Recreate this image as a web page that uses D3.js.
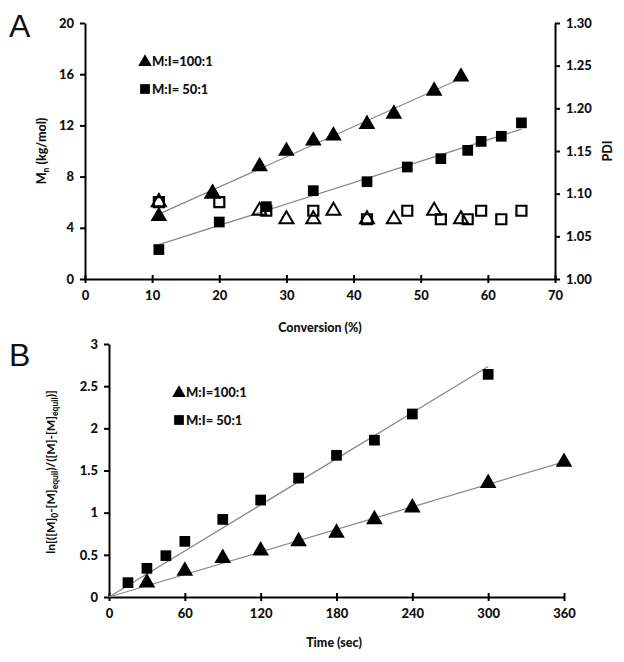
<!DOCTYPE html>
<html><head><meta charset="utf-8">
<script src="https://cdn.jsdelivr.net/npm/d3@7"></script>
<style>
body{margin:0;background:#fff;}
text{font-family:Lato,"Open Sans",sans-serif;font-weight:bold;fill:#111;}
</style></head><body>
<svg id="c" width="624" height="662"></svg>
<script>
// Panel A data
const convTri = [11, 19, 26, 30, 34, 37, 42, 46, 52, 56];
const mnTri   = [4.9, 6.7, 8.8, 10.0, 10.8, 11.2, 12.1, 12.9, 14.7, 15.8];
const pdiTri  = [1.09, 1.10, 1.08, 1.07, 1.07, 1.08, 1.07, 1.07, 1.08, 1.07];
const convSq  = [11, 20, 27, 34, 42, 48, 53, 57, 59, 62, 65];
const mnSq    = [2.3, 4.45, 5.65, 6.9, 7.6, 8.75, 9.4, 10.05, 10.75, 11.15, 12.2];
const pdiSq   = [1.09, 1.09, 1.08, 1.08, 1.07, 1.08, 1.07, 1.07, 1.08, 1.07, 1.08];
const ticksConv = [0, 10, 20, 30, 40, 50, 60, 70];
const ticksMn = [0, 4, 8, 12, 16, 20];
const ticksPdi = [1.00, 1.05, 1.10, 1.15, 1.20, 1.25, 1.30];
// Panel B data
const timeTri = [30, 60, 90, 120, 150, 180, 210, 240, 300, 360];
const lnTri   = [0.17, 0.31, 0.46, 0.55, 0.66, 0.76, 0.92, 1.06, 1.35, 1.60];
const timeSq  = [15, 30, 45, 60, 90, 120, 150, 180, 210, 240, 300];
const lnSq    = [0.17, 0.34, 0.49, 0.66, 0.92, 1.15, 1.41, 1.68, 1.86, 2.17, 2.64];
const ticksTime = [0, 60, 120, 180, 240, 300, 360];
const ticksLn = [0, 0.5, 1, 1.5, 2, 2.5, 3];
const legendLabels = ["M:I=100:1", "M:I= 50:1"];

const svg = d3.select("#c");
const triSym = d3.symbol().type(d3.symbolTriangle);
const sqSym = d3.symbol().type(d3.symbolSquare);

function linfit(xs, ys){
  const n = xs.length, mx = d3.mean(xs), my = d3.mean(ys);
  let sxy=0, sxx=0;
  for(let i=0;i<n;i++){sxy+=(xs[i]-mx)*(ys[i]-my);sxx+=(xs[i]-mx)**2;}
  const b = sxy/sxx; return {a: my-b*mx, b};
}
function origfit(xs, ys){
  let sxy=0,sxx=0; xs.forEach((x,i)=>{sxy+=x*ys[i];sxx+=x*x;}); return {a:0,b:sxy/sxx};
}
function styleAxis(g, fs){
  g.selectAll(".domain").attr("stroke","#000").attr("stroke-width",2);
  g.selectAll(".tick line").attr("stroke","#000").attr("stroke-width",2);
  g.selectAll(".tick text").style("font-size",fs+"px").style("font-family","Lato").style("font-weight","900").attr("fill","#222");
}
function trend(g, x, y, fit, x0, x1){
  g.append("line").attr("x1",x(x0)).attr("y1",y(fit.a+fit.b*x0))
    .attr("x2",x(x1)).attr("y2",y(fit.a+fit.b*x1))
    .attr("stroke","#8a8a8a").attr("stroke-width",1.3);
}
function legend(g, x, y1, y2){
  g.append("path").attr("d",triSym.size(80)()).attr("transform",`translate(${x},${y1+1})`).attr("fill","#000");
  g.append("text").attr("x",x+7).attr("y",y1+5).style("font-size","13px").style("font-weight","900").text(legendLabels[0]);
  g.append("path").attr("d",sqSym.size(95)()).attr("transform",`translate(${x},${y2})`).attr("fill","#000");
  g.append("text").attr("x",x+7).attr("y",y2+5).style("font-size","13px").style("font-weight","900").text(legendLabels[1]);
}

// ---------- Panel A ----------
{
  const x = d3.scaleLinear().domain([0,70]).range([85,555]);
  const yL = d3.scaleLinear().domain([0,20]).range([279,23]);
  const yR = d3.scaleLinear().domain([1.0,1.3]).range([279,23]);
  const g = svg.append("g");

  const gx = g.append("g").attr("transform","translate(0,279)")
    .call(d3.axisBottom(x).tickValues(ticksConv).tickSize(4).tickPadding(8).tickSizeOuter(0));
  gx.selectAll(".tick line").attr("y1",-4);
  styleAxis(gx, 13);
  const gyL = g.append("g").attr("transform","translate(85,0)")
    .call(d3.axisLeft(yL).tickValues(ticksMn).tickSize(5).tickPadding(6).tickSizeOuter(0));
  styleAxis(gyL, 13);
  const gyR = g.append("g").attr("transform","translate(555,0)")
    .call(d3.axisRight(yR).tickValues(ticksPdi).tickSize(5).tickPadding(6).tickSizeOuter(0).tickFormat(d3.format(".2f")));
  styleAxis(gyR, 13);

  trend(g, x, yL, linfit(convTri, mnTri), 11, 56);
  trend(g, x, yL, linfit(convSq, mnSq), 11, 65);

  convSq.forEach((c,i)=>g.append("path").attr("d",sqSym.size(100)())
    .attr("transform",`translate(${x(c)},${yR(pdiSq[i])})`).attr("fill","none").attr("stroke","#000").attr("stroke-width",2.2));
  convTri.forEach((c,i)=>g.append("path").attr("d",triSym.size(85)())
    .attr("transform",`translate(${x(c)},${yR(pdiTri[i])})`).attr("fill","none").attr("stroke","#000").attr("stroke-width",2));
  convSq.forEach((c,i)=>g.append("path").attr("d",sqSym.size(115)())
    .attr("transform",`translate(${x(c)},${yL(mnSq[i])})`).attr("fill","#000"));
  convTri.forEach((c,i)=>g.append("path").attr("d",triSym.size(120)())
    .attr("transform",`translate(${x(c)},${yL(mnTri[i])})`).attr("fill","#000"));

  legend(g, 145, 61, 89);

  g.append("text").attr("transform","translate(46,151) rotate(-90)").attr("text-anchor","middle")
    .style("font-size","12.5px").style("font-weight","900").html('M<tspan dy="3" font-size="8.5">n</tspan><tspan dy="-3"> (kg/mol)</tspan>');
  g.append("text").attr("transform","translate(612,151) rotate(-90)").attr("text-anchor","middle")
    .style("font-size","12.5px").style("font-weight","900").text("PDI");
  g.append("text").attr("x",320).attr("y",332).attr("text-anchor","middle").style("font-size","12.5px").style("font-weight","900").text("Conversion (%)");
  g.append("text").attr("x",9).attr("y",37).style("font-size","32px").style("font-weight","normal").style("font-family","'Liberation Sans',Arial").text("A");
}

// ---------- Panel B ----------
{
  const x = d3.scaleLinear().domain([0,360]).range([109,564]);
  const y = d3.scaleLinear().domain([0,3]).range([597,344]);
  const g = svg.append("g");
  const gx = g.append("g").attr("transform","translate(0,597)")
    .call(d3.axisBottom(x).tickValues(ticksTime).tickSize(4).tickPadding(8).tickSizeOuter(0));
  gx.selectAll(".tick line").attr("y1",-4);
  styleAxis(gx, 13);
  const gy = g.append("g").attr("transform","translate(109,0)")
    .call(d3.axisLeft(y).tickValues(ticksLn).tickSize(5).tickPadding(6).tickSizeOuter(0).tickFormat(d=>String(d)));
  styleAxis(gy, 13);

  trend(g, x, y, origfit(timeSq, lnSq), 0, 300);
  trend(g, x, y, origfit(timeTri, lnTri), 0, 360);

  timeSq.forEach((t,i)=>g.append("path").attr("d",sqSym.size(115)())
    .attr("transform",`translate(${x(t)},${y(lnSq[i])})`).attr("fill","#000"));
  timeTri.forEach((t,i)=>g.append("path").attr("d",triSym.size(120)())
    .attr("transform",`translate(${x(t)},${y(lnTri[i])})`).attr("fill","#000"));

  legend(g, 179, 392, 420);

  g.append("text").attr("transform","translate(55,472) rotate(-90)").attr("text-anchor","middle")
    .style("font-size","12px").style("font-weight","900")
    .html('ln[([M]<tspan dy="3" font-size="8.5">0</tspan><tspan dy="-3">-[M]</tspan><tspan dy="3" font-size="8.5">equil</tspan><tspan dy="-3">)/([M]-[M]</tspan><tspan dy="3" font-size="8.5">equil</tspan><tspan dy="-3">)]</tspan>');
  g.append("text").attr("x",334).attr("y",647).attr("text-anchor","middle").style("font-size","12.5px").style("font-weight","900").text("Time (sec)");
  g.append("text").attr("x",9).attr("y",366).style("font-size","32px").style("font-weight","normal").style("font-family","'Liberation Sans',Arial").text("B");
}
</script></body></html>
